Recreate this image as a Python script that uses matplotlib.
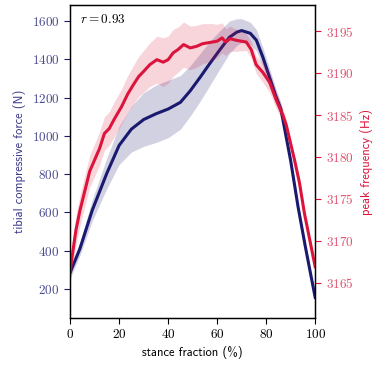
import numpy as np
import matplotlib.pyplot as plt

plt.rcParams.update({
    "mathtext.fontset": "cm",
    "axes.formatter.use_mathtext": True,
    "font.size": 9,
})

NAVY = "midnightblue"
RED = "crimson"

# tibial compressive force (N) vs stance fraction (%)
force_x = [0, 4, 9, 15, 20, 25, 30, 35, 40, 45, 49, 53, 57, 61, 65, 68, 70, 73.5,
           76, 78.6, 81.3, 84, 86, 90, 93, 96, 100]
force_mean = [285, 410, 610, 805, 950, 1035, 1085, 1115, 1140, 1175, 1235, 1305, 1378,
              1448, 1515, 1542, 1550, 1536, 1500, 1413, 1309, 1205, 1140, 870, 630, 420, 155]
force_sd = [30, 35, 55, 80, 100, 120, 140, 150, 150, 140, 132, 125, 115,
            100, 85, 70, 62, 58, 55, 50, 45, 40, 35, 25, 20, 18, 15]

# peak frequency (Hz) vs stance fraction (%)
freq_x = [0, 2.4, 4, 8, 12, 14, 16, 18, 21, 23.5, 26, 28, 30, 32.5, 35.4, 38, 40, 42,
          44, 46.3, 49, 51.7, 54, 58, 60, 62, 63.5, 65.3, 68, 71.9, 73.9, 75.9, 78.6,
          81.4, 84.1, 86.8, 88.2, 91.6, 93.6, 95.6, 100]
freq_mean = [3166.5, 3171.3, 3173.6, 3178.3, 3181.0, 3182.8, 3183.4, 3184.5, 3186.0,
             3187.5, 3188.7, 3189.6, 3190.2, 3191.0, 3191.6, 3191.3, 3191.6, 3192.4,
             3192.8, 3193.4, 3193.0, 3193.2, 3193.5, 3193.7, 3193.8, 3194.2, 3193.7,
             3194.1, 3193.9, 3193.7, 3192.8, 3191.0, 3190.1, 3188.9, 3186.8, 3185.0,
             3183.8, 3179.6, 3176.9, 3173.3, 3166.9]
freq_sd = [1.6, 1.8, 1.8, 1.9, 2.0, 2.0, 2.0, 2.1, 2.1, 2.2, 2.3, 2.4, 2.5, 2.6, 2.8,
           2.9, 2.8, 2.8, 2.7, 2.7, 2.6, 2.5, 2.4, 2.2, 2.0, 1.8, 1.6, 1.5, 1.3, 1.0,
           1.0, 1.0, 1.2, 1.2, 1.0, 0.8, 0.7, 0.5, 0.5, 0.4, 0.4]

r_value = 0.93

fig = plt.figure(figsize=(3.77, 3.68), dpi=100)
ax = fig.add_axes([0.186, 0.136, 0.650, 0.850])
ax2 = ax.twinx()

fx = np.array(force_x)
fm = np.array(force_mean)
fs = np.array(force_sd)
ax.fill_between(fx, fm - fs, fm + fs, color=NAVY, alpha=0.2, lw=0)
ax.plot(fx, fm, color=NAVY, lw=2.2)

qx = np.array(freq_x)
qm = np.array(freq_mean)
qs = np.array(freq_sd)
ax2.fill_between(qx, qm - qs, qm + qs, color=RED, alpha=0.18, lw=0)
ax2.plot(qx, qm, color=RED, lw=2.2)

ax.set_xlim(0, 100)
ax.set_ylim(48, 1683)
ax2.set_ylim(3160.8, 3198.1)
ax.set_xticks([0, 20, 40, 60, 80, 100])
ax.set_yticks([200, 400, 600, 800, 1000, 1200, 1400, 1600])
ax2.set_yticks([3165, 3170, 3175, 3180, 3185, 3190, 3195])

serif = {"family": "cmr10", "size": 9.5}
for lab in ax.get_xticklabels() + ax.get_yticklabels() + ax2.get_yticklabels():
    lab.set_fontproperties(serif)

ax.tick_params(axis="y", colors=NAVY, length=4, width=0.8)
ax2.tick_params(axis="y", colors=RED, length=4, width=0.8)
ax.tick_params(axis="x", length=4, width=0.8)
for lab in ax.get_yticklabels():
    lab.set_color("#4a4a8e")
for lab in ax2.get_yticklabels():
    lab.set_color("#e0506e")

for a in (ax, ax2):
    for s in a.spines.values():
        s.set_linewidth(0.9)

sans = {"family": "cmss10", "size": 9}
ax.set_xlabel("stance fraction (%)", fontdict=sans, labelpad=3)
ax.set_ylabel("tibial compressive force (N)", fontdict=sans, color="#3a3a8a", labelpad=4)
ax2.set_ylabel("peak frequency (Hz)", fontdict=sans, color=RED, labelpad=5)

ax.text(0.04, 0.975, rf"$r = {r_value}$", transform=ax.transAxes, ha="left", va="top",
        fontsize=9.5)

fig.savefig("out.png", dpi=100, facecolor="white")
